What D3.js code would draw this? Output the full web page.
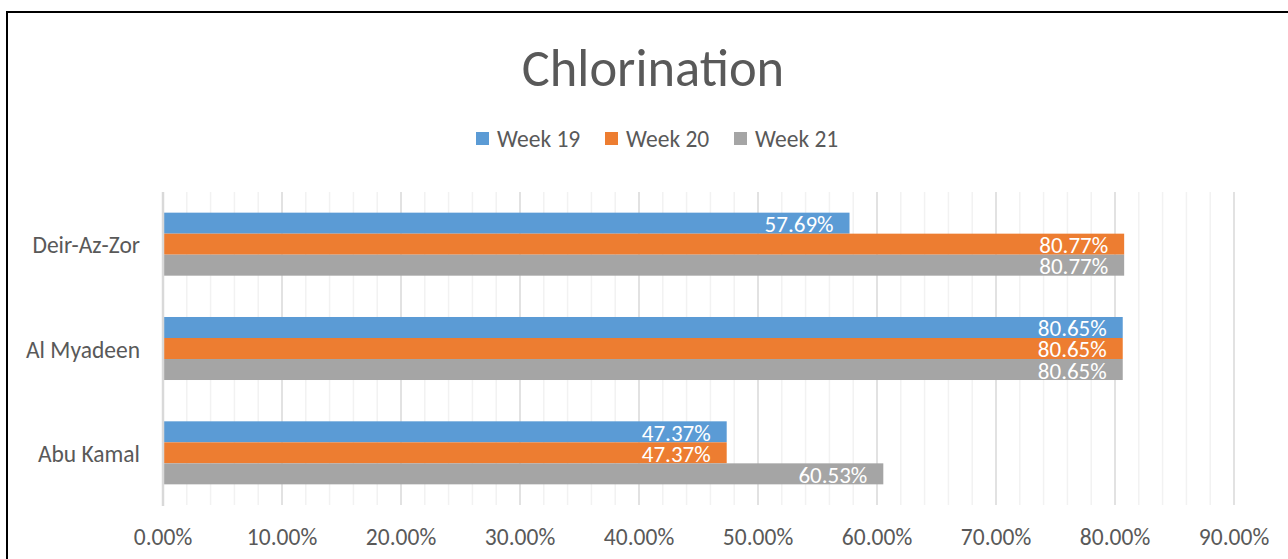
<!DOCTYPE html>
<html>
<head>
<meta charset="utf-8">
<script src="https://cdn.jsdelivr.net/npm/d3@7"></script>
<style>
  body { margin: 0; background: #fff; }
  text { font-family: Calibri, Carlito, "Open Sans", sans-serif; }
</style>
</head>
<body>
<svg id="chart"></svg>
<script>
// データ
const categories = ["Deir-Az-Zor", "Al Myadeen", "Abu Kamal"];
const seriesNames = ["Week 19", "Week 20", "Week 21"];
const week19 = [57.69, 80.65, 47.37];
const week20 = [80.77, 80.65, 47.37];
const week21 = [80.77, 80.65, 60.53];
const xTicks = [0, 10, 20, 30, 40, 50, 60, 70, 80, 90];

const width = 1288;
const height = 559;
const colors = ["#5B9BD5", "#ED7D31", "#A5A5A5"];
const textColor = "#595959";

const svg = d3.select("#chart")
                .attr("width", width)
                .attr("height", height);

// 枠線
svg.append("rect")
    .attr("x", 7).attr("y", 12)
    .attr("width", width + 10).attr("height", height + 10)
    .attr("fill", "#fff")
    .attr("stroke", "#000")
    .attr("stroke-width", 2);

var x = d3.scaleLinear()
            .domain([0, 90])
            .range([163, 1234]);

var y = d3.scaleBand()
            .domain(categories)
            .range([192, 505]);

var ySub = d3.scaleBand()
            .domain(seriesNames)
            .range([y.bandwidth() * 0.198, y.bandwidth() * 0.802]);

// 補助目盛線 (2%ごと)
svg.append("g").selectAll("line")
    .data(d3.range(2, 92, 2).filter(function(d) {return d % 10 !== 0;}))
    .enter().append("line")
    .attr("x1", function(d) {return x(d);})
    .attr("x2", function(d) {return x(d);})
    .attr("y1", 192).attr("y2", 505)
    .attr("stroke", "#F2F2F2")
    .attr("stroke-width", 1.5);

// 目盛線
svg.append("g").selectAll("line")
    .data(xTicks.slice(1))
    .enter().append("line")
    .attr("x1", function(d) {return x(d);})
    .attr("x2", function(d) {return x(d);})
    .attr("y1", 192).attr("y2", 505)
    .attr("stroke", "#D9D9D9")
    .attr("stroke-width", 1.5);

// 棒グラフ
const rows = categories.map(function(c, i) {
    return {cat: c, values: [week19[i], week20[i], week21[i]]};
});

var groups = svg.append("g").selectAll("g")
    .data(rows)
    .enter().append("g")
    .attr("transform", function(d) {return "translate(0," + y(d.cat) + ")";});

groups.selectAll("rect")
    .data(function(d) {return d.values.map(function(v, j) {return {name: seriesNames[j], v: v, j: j};});})
    .enter().append("rect")
    .attr("x", x(0))
    .attr("y", function(d) {return ySub(d.name);})
    .attr("width", function(d) {return x(d.v) - x(0);})
    .attr("height", ySub.bandwidth())
    .attr("fill", function(d) {return colors[d.j];});

// データラベル
groups.selectAll("text")
    .data(function(d) {return d.values.map(function(v, j) {return {name: seriesNames[j], v: v, j: j};});})
    .enter().append("text")
    .text(function(d) {return d.v.toFixed(2) + "%";})
    .attr("x", function(d) {return x(d.v) - 16;})
    .attr("y", function(d) {return ySub(d.name) + ySub.bandwidth() / 2 + 1;})
    .attr("text-anchor", "end")
    .attr("dominant-baseline", "central")
    .attr("fill", "#fff")
    .attr("font-size", 23);

// 縦軸線
svg.append("line")
    .attr("x1", x(0)).attr("x2", x(0))
    .attr("y1", 192).attr("y2", 506)
    .attr("stroke", "#D9D9D9")
    .attr("stroke-width", 2.5);

// 項目ラベル
svg.append("g").selectAll("text")
    .data(categories)
    .enter().append("text")
    .text(function(d) {return d;})
    .attr("x", 140)
    .attr("y", function(d) {return y(d) + y.bandwidth() / 2 + 1;})
    .attr("text-anchor", "end")
    .attr("dominant-baseline", "central")
    .attr("fill", textColor)
    .attr("font-size", 23.5);

// 横軸ラベル
svg.append("g").selectAll("text")
    .data(xTicks)
    .enter().append("text")
    .text(function(d) {return d.toFixed(2) + "%";})
    .attr("x", function(d) {return x(d);})
    .attr("y", 545)
    .attr("text-anchor", "middle")
    .attr("fill", textColor)
    .attr("font-size", 23.5);

// タイトル
svg.append("text")
    .text("Chlorination")
    .attr("x", 653)
    .attr("y", 86)
    .attr("text-anchor", "middle")
    .attr("fill", textColor)
    .attr("font-size", 52.5);

// 凡例
const legendX = [476, 605, 734];
var legend = svg.append("g").selectAll("g")
    .data(seriesNames)
    .enter().append("g")
    .attr("transform", function(d, i) {return "translate(" + legendX[i] + ",132)";});

legend.append("rect")
    .attr("width", 13).attr("height", 13)
    .attr("fill", function(d, i) {return colors[i];});

legend.append("text")
    .text(function(d) {return d;})
    .attr("x", 21)
    .attr("y", 7)
    .attr("dominant-baseline", "central")
    .attr("fill", textColor)
    .attr("font-size", 23.5);
</script>
</body>
</html>
